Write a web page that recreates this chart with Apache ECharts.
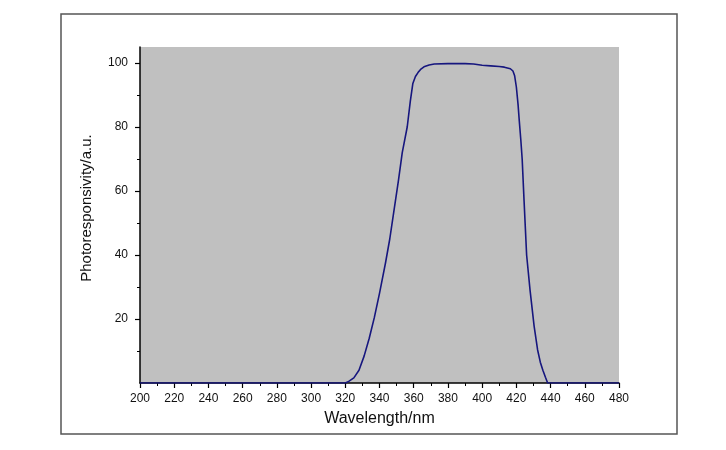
<!DOCTYPE html>
<html>
<head>
<meta charset="utf-8">
<script src="https://cdn.jsdelivr.net/npm/echarts@6/dist/echarts.min.js"></script>
<style>html,body{margin:0;padding:0;background:#fff;}#c{width:726px;height:450px;}</style>
</head>
<body>
<div id="c"></div>
<script>
var wavelengths = [200, 320, 322, 325, 328, 331, 334, 337, 340, 343.5, 346, 348.5, 351, 353.3, 356.2, 358, 359.5, 361, 362.5, 364, 366, 369, 372, 380, 390, 395, 400, 405, 410, 413, 416.5, 418, 419, 420, 421, 421.7, 422.6, 423.4, 424.5, 426, 428, 430.4, 432.4, 434, 435.5, 437, 438.3, 480];
var responsivity = [0, 0, 0.5, 1.6, 4, 8.4, 14, 20.5, 28, 37.5, 45, 54, 63, 72, 80, 88, 93.6, 95.8, 97, 98, 98.8, 99.4, 99.7, 99.8, 99.8, 99.7, 99.3, 99.1, 98.9, 98.7, 98.2, 97.5, 96, 92.5, 87, 82, 76, 70, 57, 40, 29, 17.7, 10.4, 6.5, 4, 1.8, 0, 0];
var xRange = [200, 480, 20];
var yRange = [0, 105, 20];
var yMajorTicks = [20, 40, 60, 80, 100];
var yMinorTicks = [10, 30, 50, 70, 90];

var data = wavelengths.map(function (w, i) { return [w, responsivity[i]]; });
var chart = echarts.init(document.getElementById('c'), null, {renderer: 'canvas'});
var font = '"Liberation Sans", Arial, sans-serif';
chart.setOption({
  animation: false,
  backgroundColor: '#ffffff',
  graphic: [{
    type: 'rect', z: -10, silent: true,
    shape: {x: 61, y: 14, width: 616, height: 420},
    style: {fill: 'none', stroke: '#555555', lineWidth: 1.5}
  }],
  grid: {left: 140, right: 107, top: 47, bottom: 67, show: true, backgroundColor: '#c0c0c0', borderWidth: 0},
  xAxis: {
    type: 'value', min: xRange[0], max: xRange[1], interval: xRange[2],
    name: 'Wavelength/nm', nameLocation: 'middle', nameGap: 28,
    nameTextStyle: {fontFamily: font, fontSize: 16, color: '#111'},
    axisLine: {show: true, onZero: false, lineStyle: {color: '#000', width: 1.5}},
    axisTick: {show: true, length: 5, lineStyle: {color: '#000', width: 1.2}},
    minorTick: {show: true, splitNumber: 2, length: 3, lineStyle: {color: '#000', width: 1}},
    axisLabel: {fontFamily: font, fontSize: 12, color: '#111', margin: 10},
    splitLine: {show: false}
  },
  yAxis: [{
    type: 'value', min: yRange[0], max: yRange[1], interval: yRange[2],
    name: 'Photoresponsivity/a.u.', nameLocation: 'middle', nameGap: 46,
    nameTextStyle: {fontFamily: font, fontSize: 15, color: '#111', padding: [0, 0, 0, 14]},
    axisLine: {show: true, onZero: false, lineStyle: {color: '#000', width: 1.5}},
    axisTick: {show: true, length: 5, customValues: yMajorTicks, lineStyle: {color: '#000', width: 1.2}},
    minorTick: {show: false},
    axisLabel: {fontFamily: font, fontSize: 12, color: '#111', margin: 12, customValues: yMajorTicks},
    splitLine: {show: false}
  }, {
    type: 'value', min: yRange[0], max: yRange[1], position: 'left', offset: 0,
    axisLine: {show: false, onZero: false},
    axisTick: {show: true, length: 3, customValues: yMinorTicks, lineStyle: {color: '#000', width: 1}},
    axisLabel: {show: false},
    splitLine: {show: false}
  }],
  series: [{
    type: 'line', data: data, symbol: 'none', smooth: false, yAxisIndex: 0,
    lineStyle: {color: '#16167e', width: 1.6}
  }]
});
</script>
</body>
</html>
